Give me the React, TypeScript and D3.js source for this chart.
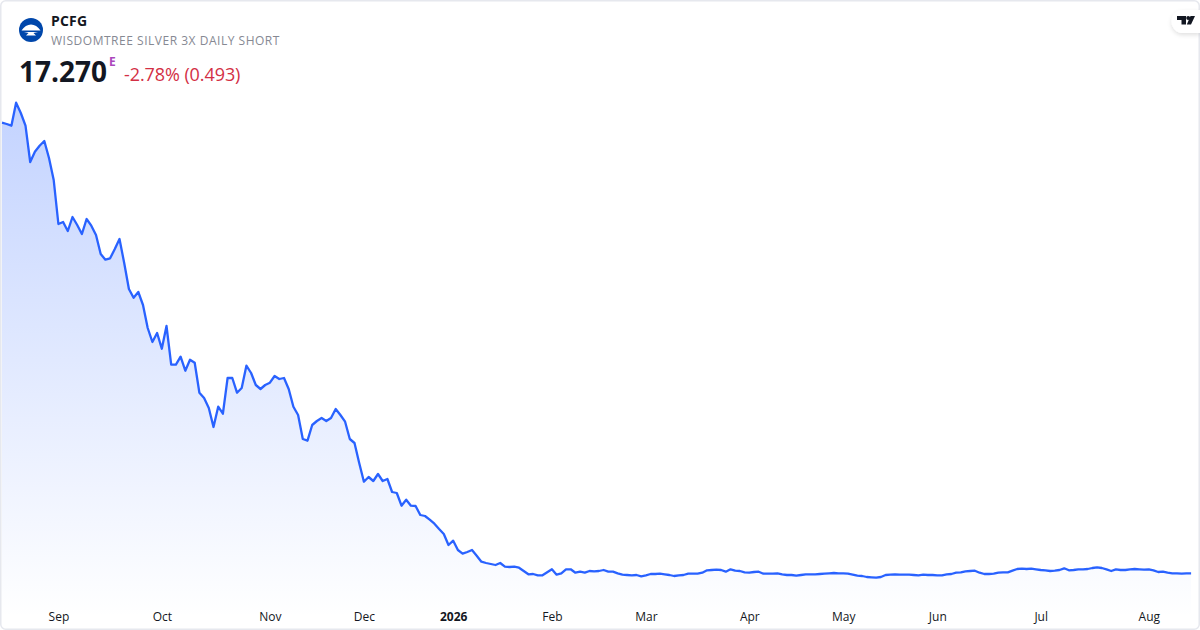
import React, { useRef, useEffect } from 'react';
import * as d3 from 'd3';

const prices: number[] = [
  467.9, 466.6, 464.9, 487.9, 477.6, 464.9, 428.6, 438.9, 444.9, 449.6, 432.6, 410.6, 366.6, 368.6, 359.6, 373.6,
  365.6, 356.6, 371.6, 364.9, 355.6, 336.6, 330.9, 332.3, 341.6, 351.6, 327.6, 301.6, 292.9, 298.6, 285.6, 262.6,
  248.6, 257.6, 241.9, 264.6, 225.9, 225.9, 233.9, 219.9, 230.9, 227.9, 197.9, 192.6, 182.6, 163.6, 183.9, 176.9,
  212.6, 212.6, 197.9, 202.6, 224.9, 217.6, 205.6, 201.6, 205.6, 207.9, 214.6, 211.6, 212.6, 201.6, 183.9, 175.6,
  151.6, 149.9, 165.6, 169.6, 172.6, 169.6, 172.6, 181.6, 175.6, 168.9, 151.6, 147.6, 127.6, 108.9, 113.6, 109.6,
  116.6, 109.6, 111.6, 98.6, 97.6, 84.9, 90.9, 84.9, 84.6, 75.6, 74.6, 70.9, 66.9, 61.6, 56.6, 45.6,
  49.9, 40.6, 36.9, 38.6, 40.6, 34.9, 28.9, 27.6, 26.6, 25.6, 27.6, 23.9, 23.6, 23.9, 22.9, 19.6,
  16.3, 16.6, 15.3, 15.3, 18.3, 21.3, 15.9, 17.3, 21.3, 21.3, 17.9, 18.9, 17.9, 19.6, 19.3, 19.6,
  20.6, 18.9, 18.9, 17.3, 15.9, 15.6, 15.3, 15.6, 14.3, 15.3, 16.6, 16.6, 16.9, 16.3, 15.6, 14.6,
  15.3, 15.6, 16.9, 16.9, 16.9, 17.9, 20.3, 20.6, 20.9, 20.6, 18.9, 21.3, 19.9, 19.6, 18.3, 17.9,
  18.6, 18.9, 16.9, 16.9, 16.9, 17.3, 16.3, 15.6, 15.6, 14.9, 15.6, 16.3, 16.3, 16.3, 16.6, 16.9,
  17.3, 17.6, 17.3, 17.3, 16.9, 15.9, 14.9, 14.6, 13.6, 13.3, 12.9, 13.6, 15.6, 15.9, 16.3, 15.9,
  15.9, 15.9, 15.6, 15.3, 15.9, 15.6, 15.6, 15.3, 15.3, 16.3, 16.6, 17.9, 18.3, 19.3, 19.6, 19.9,
  17.9, 16.6, 16.6, 16.9, 17.9, 18.3, 18.3, 19.9, 21.6, 21.9, 21.6, 21.9, 21.3, 20.6, 20.3, 19.6,
  19.9, 20.6, 22.3, 20.3, 20.6, 21.3, 21.3, 21.6, 22.6, 23.3, 22.6, 21.3, 19.6, 21.3, 20.6, 20.6,
  21.3, 21.6, 21.3, 20.9, 21.3, 20.3, 18.6, 18.9, 17.9, 17.3, 17.3, 16.9, 17.3, 17.27,
];

const monthLabels = ['Sep', 'Oct', 'Nov', 'Dec', '2026', 'Feb', 'Mar', 'Apr', 'May', 'Jun', 'Jul', 'Aug'];
const monthStarts = [12, 34, 57, 77, 96, 117, 137, 159, 179, 199, 221, 244];

const ticker = 'PCFG';
const fundName = 'WISDOMTREE SILVER 3X DAILY SHORT';
const lastPrice = '17.270';
const change = '-2.78% (0.493)';

const font = '"Open Sans", "Noto Sans", sans-serif';

const App: React.FC = () => {
  const svgRef = useRef<SVGSVGElement | null>(null);
  const width = 1200;
  const height = 630;

  useEffect(() => {
    if (!svgRef.current) return;
    const svg = d3.select(svgRef.current);
    svg.selectAll('*').remove();

    const x = d3.scaleLinear().domain([0, prices.length - 1]).range([2, 1191.1]);
    const y = d3.scaleLinear().domain([0, 500]).range([590.6, 90.6]);

    svg.append('rect').attr('width', width).attr('height', height).attr('fill', '#ffffff');

    const defs = svg.append('defs');
    const grad = defs.append('linearGradient')
      .attr('id', 'areaFill')
      .attr('gradientUnits', 'userSpaceOnUse')
      .attr('x1', 0).attr('y1', y(d3.max(prices) as number))
      .attr('x2', 0).attr('y2', 618);
    grad.append('stop').attr('offset', 0).attr('stop-color', '#2962ff').attr('stop-opacity', 0.28);
    grad.append('stop').attr('offset', 1).attr('stop-color', '#2962ff').attr('stop-opacity', 0);

    const area = d3.area<number>()
      .x((_, i) => x(i))
      .y0(629)
      .y1(d => y(d));
    svg.append('path').datum(prices).attr('fill', 'url(#areaFill)').attr('d', area);

    const line = d3.line<number>()
      .x((_, i) => x(i))
      .y(d => y(d));
    svg.append('path')
      .datum(prices)
      .attr('fill', 'none')
      .attr('stroke', '#2962ff')
      .attr('stroke-width', 2.3)
      .attr('stroke-linejoin', 'round')
      .attr('d', line);

    const axis = svg.append('g')
      .attr('transform', 'translate(0,610)')
      .call(
        d3.axisBottom(x)
          .tickValues(monthStarts)
          .tickSize(0)
          .tickPadding(0)
          .tickFormat((_, i) => monthLabels[i])
      );
    axis.select('.domain').remove();
    axis.selectAll('text')
      .attr('y', 0)
      .attr('dy', '0.95em')
      .attr('fill', '#131722')
      .attr('font-family', font)
      .attr('font-size', 12)
      .attr('font-weight', (_, i) => (monthLabels[i] === '2026' ? 700 : 400));

    // card border
    svg.append('rect')
      .attr('x', 0.75).attr('y', 0.75)
      .attr('width', width - 1.5).attr('height', height - 1.5)
      .attr('rx', 5)
      .attr('fill', 'none')
      .attr('stroke', '#e6e8ee')
      .attr('stroke-width', 1.5);

    // header
    svg.append('circle').attr('cx', 31).attr('cy', 30).attr('r', 12).attr('fill', '#0047ab');
    svg.append('path')
      .attr('d', 'M21.5 30.5 C24 26.5 27.5 24.5 31 24.5 C34.5 24.5 38 26.5 40.5 30.5 Z M24 32 H38 L33.5 33 L36 35.5 H26 L28.5 33 Z')
      .attr('fill', '#ffffff');

    svg.append('text').attr('x', 51).attr('y', 26)
      .attr('font-family', font).attr('font-size', 14).attr('font-weight', 700)
      .attr('letter-spacing', 0.2).attr('fill', '#131722').text(ticker);
    svg.append('text').attr('x', 51).attr('y', 45)
      .attr('font-family', font).attr('font-size', 12).attr('fill', '#868993')
      .attr('letter-spacing', 0.52).text(fundName);
    svg.append('text').attr('x', 19).attr('y', 82)
      .attr('font-family', font).attr('font-size', 28).attr('font-weight', 700)
      .attr('fill', '#131722').text(lastPrice);
    svg.append('text').attr('x', 109).attr('y', 66)
      .attr('font-family', font).attr('font-size', 12).attr('font-weight', 700)
      .attr('fill', '#ab47bc').text('E');
    svg.append('text').attr('x', 124).attr('y', 81)
      .attr('font-family', font).attr('font-size', 18).attr('letter-spacing', -0.08)
      .attr('fill', '#d32f45').text(change);

    // TradingView badge
    const shadow = defs.append('filter').attr('id', 'badgeShadow')
      .attr('x', '-30%').attr('y', '-30%').attr('width', '160%').attr('height', '180%');
    shadow.append('feDropShadow').attr('dx', 0).attr('dy', 2).attr('stdDeviation', 2)
      .attr('flood-color', '#000000').attr('flood-opacity', 0.12);
    svg.append('path')
      .attr('d', 'M1200 10 H1183 A11.5 11.5 0 0 0 1183 33 H1200 Z')
      .attr('fill', '#ffffff')
      .attr('filter', 'url(#badgeShadow)');
    svg.append('path')
      .attr('d', 'M1177 16 H1186 V24.5 H1181.5 V20 H1177 Z M1190.5 16 H1195 L1191 24.5 H1186.8 Z')
      .attr('fill', '#131722');
    svg.append('circle').attr('cx', 1188.2).attr('cy', 18).attr('r', 2).attr('fill', '#131722');
  }, []);

  return (
    <svg
      ref={svgRef}
      width={width}
      height={height}
      viewBox={`0 0 ${width} ${height}`}
      style={{ position: 'absolute', left: 0, top: 0, display: 'block' }}
    />
  );
};

export default App;
